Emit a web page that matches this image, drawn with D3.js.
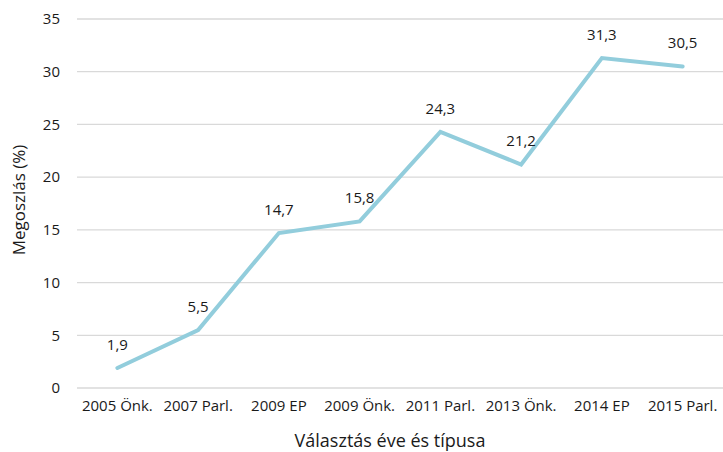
<!DOCTYPE html>
<html><head><meta charset="utf-8">
<script src="https://cdn.jsdelivr.net/npm/d3@7/dist/d3.min.js"></script>
<style>body{margin:0;background:#fff}text{font-family:"Open Sans",sans-serif;fill:#1a1a1a}</style>
</head><body><svg id="c" width="723" height="452"></svg>
<script>
const categories = ["2005 Önk.","2007 Parl.","2009 EP","2009 Önk.","2011 Parl.","2013 Önk.","2014 EP","2015 Parl."];
const values = [1.9,5.5,14.7,15.8,24.3,21.2,31.3,30.5];
const valueLabels = ["1,9","5,5","14,7","15,8","24,3","21,2","31,3","30,5"];
const yTicks = [0,5,10,15,20,25,30,35];
const yTitle = "Megoszlás (%)";
const xTitle = "Választás éve és típusa";

(function(){
const svg = d3.select("#c");
const mLeft = 77, mRight = 723, mTop = 19, mBottom = 388;
const x = d3.scaleBand().domain(categories).range([mLeft, mRight]);
const y = d3.scaleLinear().domain([0,35]).range([mBottom, mTop]);

svg.append("g").selectAll("line").data(yTicks).join("line")
  .attr("x1", mLeft).attr("x2", mRight)
  .attr("y1", d=>y(d)).attr("y2", d=>y(d))
  .attr("stroke", "#d9d9d9").attr("stroke-width", 1.3);

const yAxis = svg.append("g").attr("transform", `translate(${mLeft},0)`)
  .call(d3.axisLeft(y).tickValues(yTicks).tickSize(0).tickPadding(17));
yAxis.select(".domain").remove();
yAxis.selectAll("text").style("font-size","15px").style("fill","#1a1a1a").style("font-family","Open Sans");

const xAxis = svg.append("g").attr("transform", `translate(0,${mBottom})`)
  .call(d3.axisBottom(x).tickSize(0).tickPadding(12));
xAxis.select(".domain").remove();
xAxis.selectAll("text").style("font-size","15px").style("fill","#1a1a1a").style("font-family","Open Sans");

const line = d3.line().x((d,i)=>x(categories[i])+x.bandwidth()/2).y(d=>y(d));
svg.append("path").datum(values).attr("d", line)
  .attr("fill","none").attr("stroke","#92cddc").attr("stroke-width",4)
  .attr("stroke-linejoin","miter").attr("stroke-linecap","round");

svg.append("g").selectAll("text").data(values).join("text")
  .attr("x",(d,i)=>x(categories[i])+x.bandwidth()/2)
  .attr("y",d=>y(d)-18)
  .attr("text-anchor","middle").style("font-size","15px")
  .text((d,i)=>valueLabels[i]);

svg.append("text").attr("transform","translate(25,200) rotate(-90)")
  .attr("text-anchor","middle").style("font-size","17px").text(yTitle);
svg.append("text").attr("x",390).attr("y",447)
  .attr("text-anchor","middle").style("font-size","18px").text(xTitle);
})();
</script></body></html>
